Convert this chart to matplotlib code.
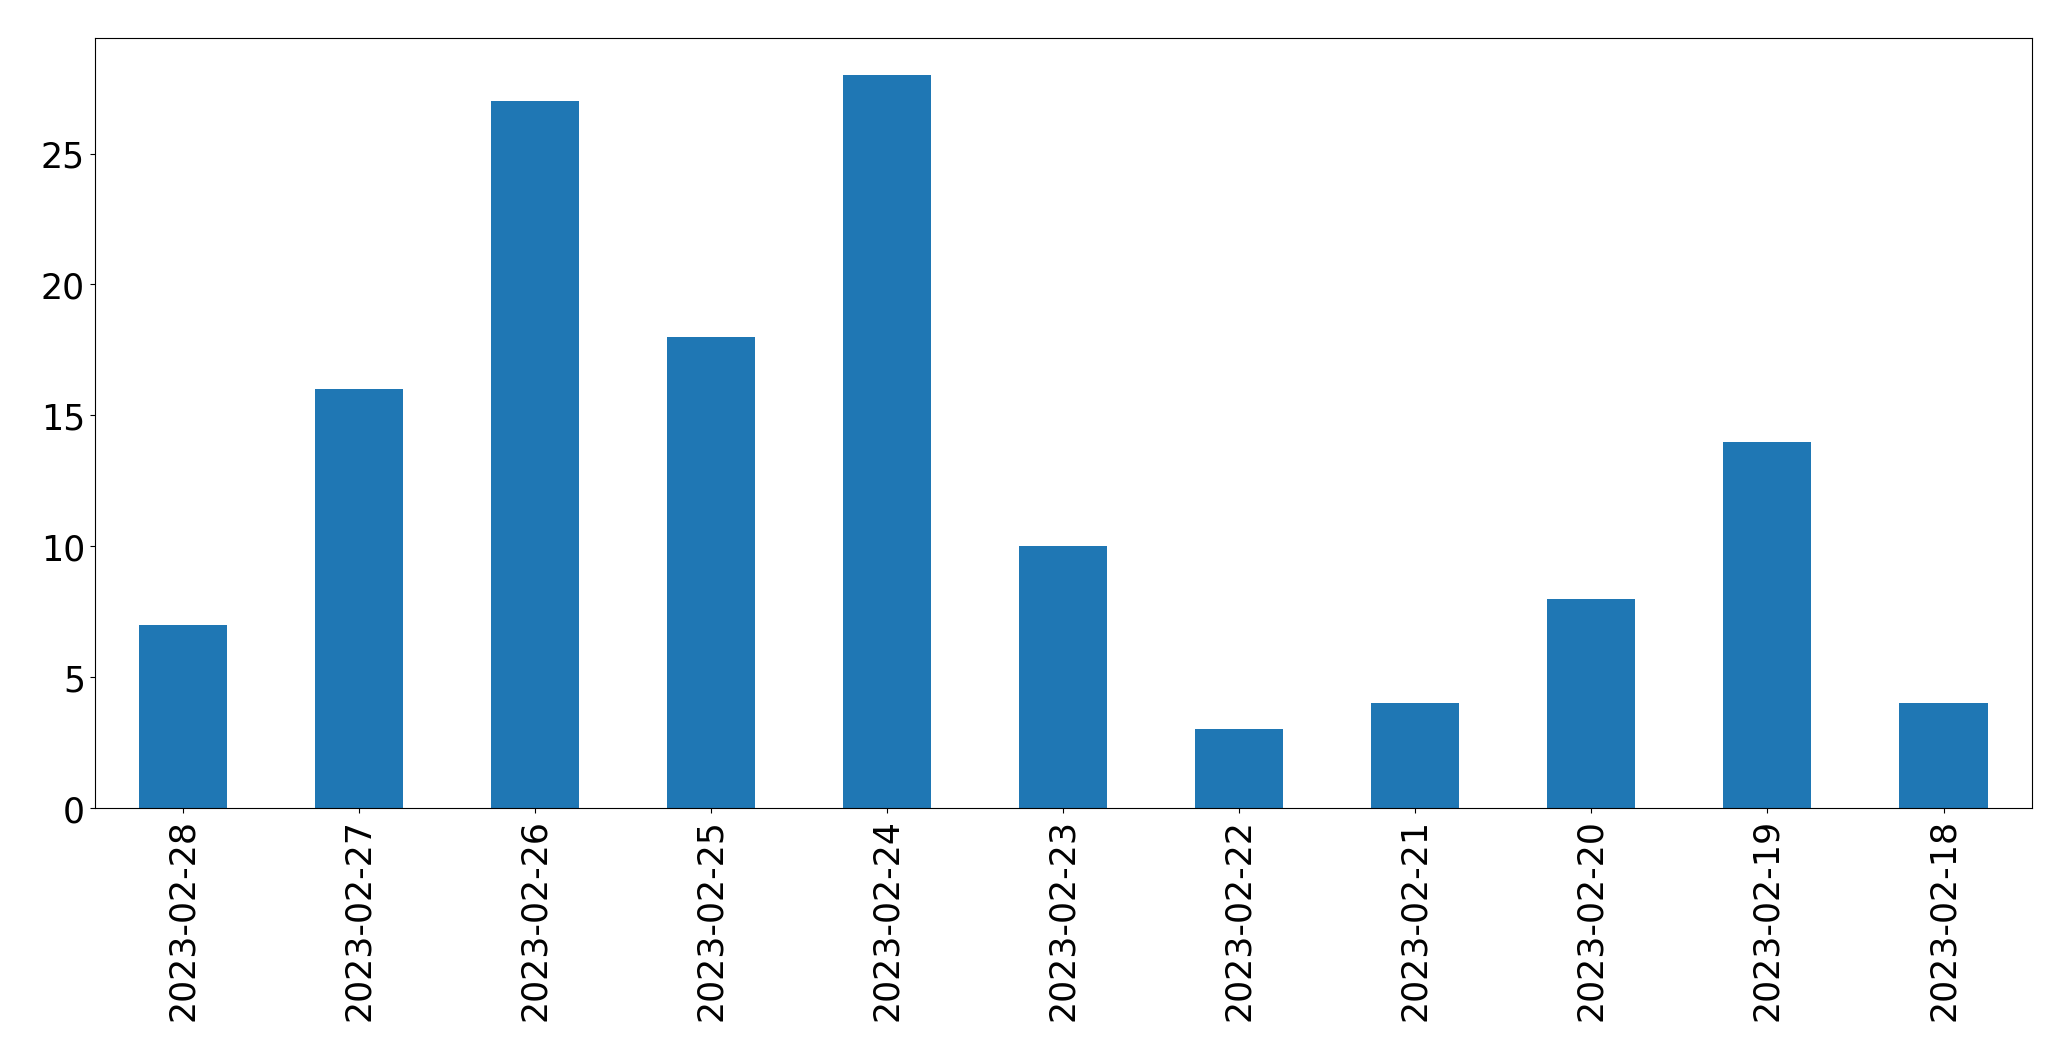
import matplotlib
matplotlib.use("Agg")
import matplotlib.pyplot as plt
import pandas as pd

dates = ["2023-02-28", "2023-02-27", "2023-02-26", "2023-02-25", "2023-02-24",
         "2023-02-23", "2023-02-22", "2023-02-21", "2023-02-20", "2023-02-19",
         "2023-02-18"]
counts = [7, 16, 27, 18, 28, 10, 3, 4, 8, 14, 4]

def main():
    s = pd.Series(counts, index=dates)
    fig = plt.figure(figsize=(20.709, 10.609), dpi=100)
    ax = fig.add_axes([0.0457, 0.2375, 0.9353, 0.7255])
    s.plot(kind="bar", ax=ax, color="#1f77b4")
    ax.tick_params(axis="both", labelsize=25)
    ax.set_xlabel("")
    fig.savefig("out.png", dpi=100)

if __name__ == "__main__":
    main()
